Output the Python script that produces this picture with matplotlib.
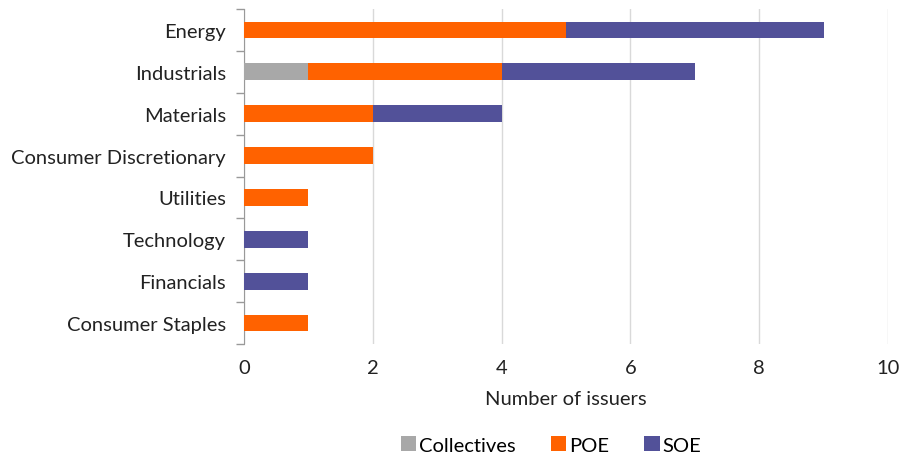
import matplotlib

matplotlib.use("Agg")
import matplotlib.pyplot as plt
import numpy as np

# Issuers by sector, split by ownership type
sectors = [
    "Energy",
    "Industrials",
    "Materials",
    "Consumer Discretionary",
    "Utilities",
    "Technology",
    "Financials",
    "Consumer Staples",
]
collectives = [0, 1, 0, 0, 0, 0, 0, 0]
poe = [5, 3, 2, 2, 1, 0, 0, 1]
soe = [4, 3, 2, 0, 0, 1, 1, 0]
x_ticks = [0, 2, 4, 6, 8, 10]

GREY = "#A8A8A8"
ORANGE = "#FF6200"
PURPLE = "#525199"
TEXT = "#222222"
FS = 14.5

plt.rcParams["font.family"] = ["Lato", "DejaVu Sans"]

fig = plt.figure(figsize=(9.09, 4.56), dpi=100)
ax = fig.add_axes([0.2684, 0.2434, 0.7085, 0.7346])

y = np.arange(len(sectors))
left = np.zeros(len(sectors))
for values, color, label in ((collectives, GREY, "Collectives"), (poe, ORANGE, "POE"), (soe, PURPLE, "SOE")):
    ax.barh(y, values, left=left, height=0.4, color=color, label=label, zorder=3)
    left += np.array(values)

ax.set_ylim(len(sectors) - 0.5, -0.5)
ax.set_xlim(0, 10)
ax.set_xticks(x_ticks)
ax.set_xticklabels([str(t) for t in x_ticks], fontsize=FS, color=TEXT)
ax.tick_params(axis="x", length=0, pad=11)

# category labels sit between boundary tick marks
ax.set_yticks(y)
ax.set_yticklabels(sectors, fontsize=FS, color=TEXT)
ax.tick_params(axis="y", which="major", length=0, pad=13)
ax.set_yticks(np.arange(-0.5, len(sectors)), minor=True)
ax.tick_params(axis="y", which="minor", length=6, color="#999999", width=1)

ax.grid(axis="x", color="#D9D9D9", linewidth=1, zorder=0)
for side in ("top", "right", "bottom"):
    ax.spines[side].set_visible(False)
ax.spines["left"].set_color("#999999")

ax.set_xlabel("Number of issuers", fontsize=FS, color=TEXT, labelpad=10)

ax.legend(
    loc="center",
    bbox_to_anchor=(0.477, -0.302),
    ncol=3,
    frameon=False,
    fontsize=FS,
    handlelength=0.75,
    handleheight=0.75,
    handletextpad=0.15,
    columnspacing=1.75,
    borderaxespad=0,
)

fig.savefig("out.png", dpi=100)
